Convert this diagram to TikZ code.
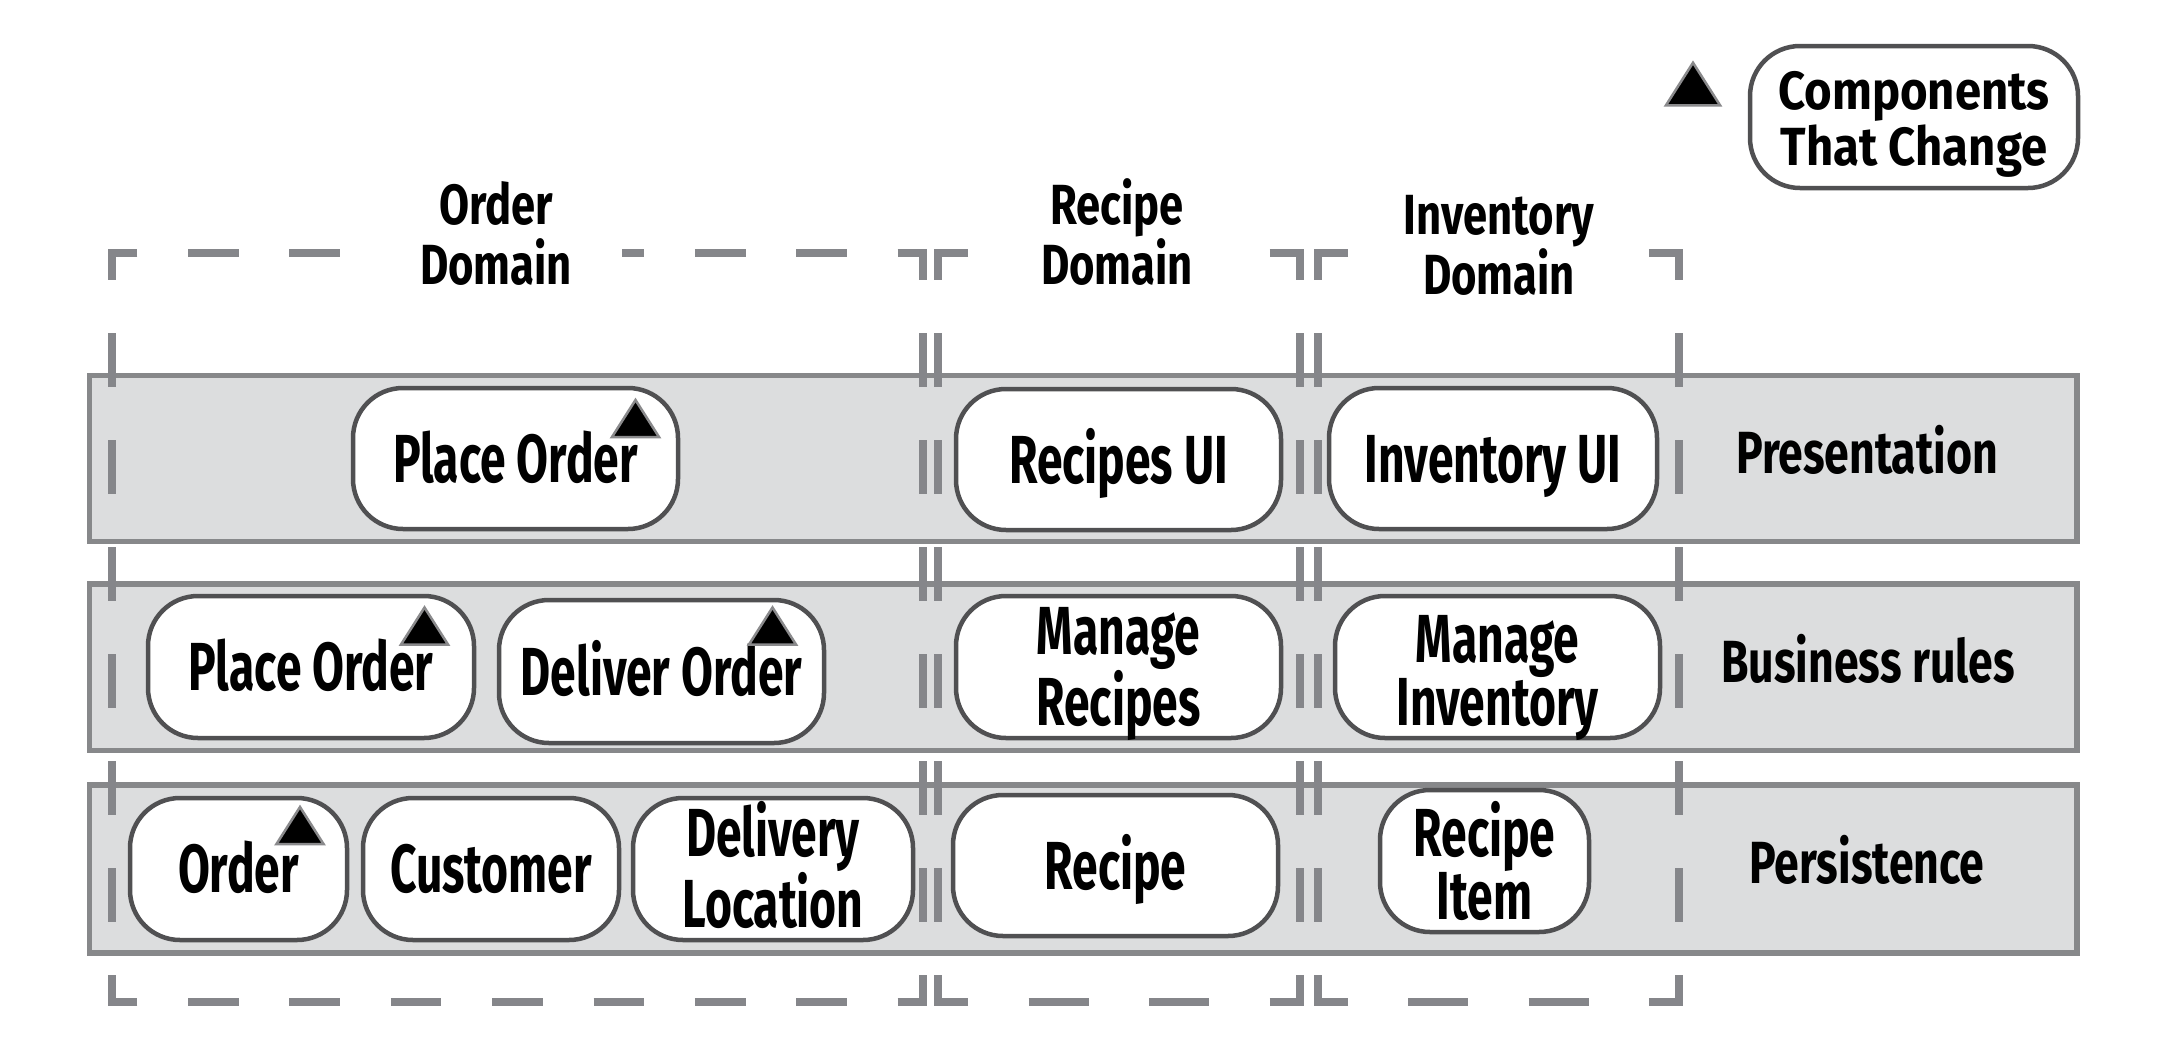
\documentclass[tikz,border=0pt]{standalone}
\usepackage{fontspec}
\setmainfont{Fira Sans}
\newfontfamily\boxfam{Fira Sans}[FakeStretch=0.68]
\newfontfamily\layfam{Fira Sans}[FakeStretch=0.75]
\newfontfamily\domfam{Fira Sans}[FakeStretch=0.77]
\newfontfamily\legfam{Fira Sans}[FakeStretch=0.88]
\definecolor{bandfill}{HTML}{DCDDDE}
\definecolor{bandline}{HTML}{87888A}
\definecolor{domline}{HTML}{85868A}
\definecolor{nodeline}{HTML}{505052}
\definecolor{trigray}{HTML}{8A8A8C}
\newcommand\compfnt{\boxfam\bfseries\fontsize{68}{62}\selectfont}
\newcommand\domfnt{\domfam\bfseries\fontsize{56.6}{60}\selectfont}
\newcommand\layfnt{\layfam\bfseries\fontsize{59.5}{60}\selectfont}
\newcommand\legfnt{\legfam\bfseries\fontsize{53.7}{56}\selectfont}
\tikzset{
  band/.style={draw=bandline, fill=bandfill, line width=5.5pt},
  domside/.style={draw=domline, line width=8pt},
  comp/.style={draw=nodeline, fill=white, line width=4.5pt, rounded corners=50pt,
    inner sep=0pt, align=center, font=\compfnt, text height=47pt, text depth=0pt},
  twoline/.style={text height=117pt},
  domlabel/.style={fill=white, inner xsep=30pt, inner ysep=6pt, align=center, font=\domfnt,
    text height=101pt, text depth=0pt},
  laylabel/.style={inner sep=0pt, align=center, font=\layfnt, text height=41pt, text depth=0pt},
  chgmark/.pic={\filldraw[fill=black, draw=trigray, line width=2.5pt, line join=miter]
    (-23.5,18.5) -- (0,-18.5) -- (23.5,18.5) -- cycle;}
}
% dashed domain box: x1 y1 x2 y2 horizontal-dash vertical-dash
\newcommand\dombox[6]{%
  \draw[domside, line join=miter] ({#1+#5/2},#2) -- (#1,#2) -- (#1,{#2+#6/2});
  \draw[domside, line join=miter] ({#3-#5/2},#2) -- (#3,#2) -- (#3,{#2+#6/2});
  \draw[domside, line join=miter] ({#1+#5/2},#4) -- (#1,#4) -- (#1,{#4-#6/2});
  \draw[domside, line join=miter] ({#3-#5/2},#4) -- (#3,#4) -- (#3,{#4-#6/2});
  \draw[domside, dash pattern=on #5pt off #5pt, dash phase=#5pt] ({#1+#5/2},#2) -- ({#3-#5/2},#2);
  \draw[domside, dash pattern=on #5pt off #5pt, dash phase=#5pt] ({#1+#5/2},#4) -- ({#3-#5/2},#4);
  \draw[domside, dash pattern=on #6pt off #6pt, dash phase=#6pt] (#1,{#2+#6/2}) -- (#1,{#4-#6/2});
  \draw[domside, dash pattern=on #6pt off #6pt, dash phase=#6pt] (#3,{#2+#6/2}) -- (#3,{#4-#6/2});
}
\begin{document}
\begin{tikzpicture}[x=1pt, y=-1pt]
\useasboundingbox[fill=white] (0,0) rectangle (2177,1058);
% layer bands
\path[band] (89.5,375.5) rectangle (2077,541.5);
\path[band] (89.5,584) rectangle (2077,750.5);
\path[band] (89.5,785) rectangle (2077,953);
% domain boxes
\dombox{112}{253}{923}{1002}{50.69}{53.5}
\dombox{938}{253}{1300}{1002}{60.33}{53.5}
\dombox{1318}{253}{1679}{1002}{60.17}{53.5}
% domain labels
\node[domlabel, inner xsep=50pt] (orderdom) at (496,234) {Order\\Domain};
\node[domlabel] (recipedom) at (1117,234) {Recipe\\Domain};
\node[domlabel] (invdom) at (1499,244) {Inventory\\Domain};
% presentation
\node[comp, minimum width=325pt, minimum height=141pt] (po1) at (515.5,458.5) {Place Order};
\node[comp, minimum width=325pt, minimum height=141pt] (rui) at (1118.5,459.5) {Recipes UI};
\node[comp, minimum width=328pt, minimum height=141pt] (iui) at (1493,458.5) {Inventory UI};
% business rules
\node[comp, minimum width=326pt, minimum height=142pt] (po2) at (311,667) {Place Order};
\node[comp, minimum width=325pt, minimum height=143pt] (do2) at (661.5,671.5) {Deliver Order};
\node[comp, twoline, minimum width=325pt, minimum height=142pt] (mr) at (1118.5,667) {Manage\\Recipes};
\node[comp, twoline, minimum width=325pt, minimum height=142pt] (mi) at (1497.5,667) {Manage\\Inventory};
% persistence
\node[comp, minimum width=217pt, minimum height=142pt] (ord) at (238.5,869) {Order};
\node[comp, minimum width=256pt, minimum height=142pt] (cus) at (491,869) {Customer};
\node[comp, twoline, minimum width=280pt, minimum height=142pt] (dl) at (773,869) {Delivery\\Location};
\node[comp, minimum width=325pt, minimum height=141pt] (rec) at (1115.5,865.5) {Recipe};
\node[comp, twoline, minimum width=209pt, minimum height=142pt] (ri) at (1484.5,861) {Recipe\\Item};
% change marks
\pic at (635.5,418.5) {chgmark};
\pic at (424.5,626) {chgmark};
\pic at (772.5,626) {chgmark};
\pic at (300,825.5) {chgmark};
% layer labels
\node[laylabel] (lpres) at (1867,452.5) {Presentation};
\node[laylabel] (lbus) at (1868,662) {Business rules};
\node[laylabel] (lpers) at (1867,863) {Persistence};
% legend
\pic[scale=1.15] at (1693,84) {chgmark};
\node[comp, font=\legfnt, text height=96pt, minimum width=328pt, minimum height=142pt] (legend) at (1914,117) {Components\\That Change};
\end{tikzpicture}
\end{document}
